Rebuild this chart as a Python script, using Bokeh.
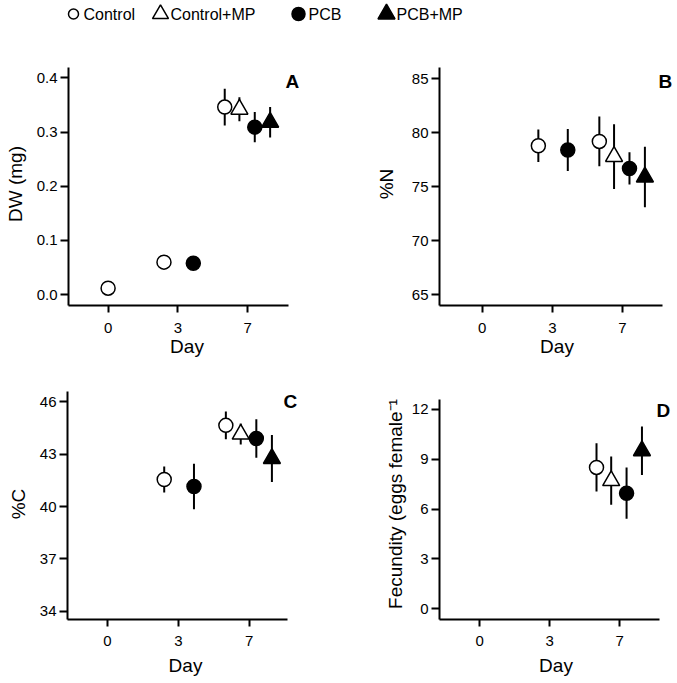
from bokeh.plotting import figure
from bokeh.layouts import column, row
from bokeh.models import Range1d, Label, FixedTicker, NumeralTickFormatter, ColumnDataSource
from bokeh.core.properties import value
from bokeh.embed import file_html
from bokeh.resources import INLINE

FONT = "Liberation Sans"

# ---------------- data ----------------
groups = ["Control", "Control+MP", "PCB", "PCB+MP"]
group_marker = ["circle", "triangle", "circle", "triangle"]
group_fill = ["white", "white", "black", "black"]
day_labels = ["0", "3", "7"]

# Panel A: dry weight (mg)
dw_control_days = ["0", "3", "7"]
dw_control = [0.012, 0.060, 0.346]
dw_control_err = [0.004, 0.004, 0.034]
dw_controlmp_days = ["7"]
dw_controlmp = [0.342]
dw_controlmp_err = [0.022]
dw_pcb_days = ["3", "7"]
dw_pcb = [0.058, 0.309]
dw_pcb_err = [0.004, 0.028]
dw_pcbmp_days = ["7"]
dw_pcbmp = [0.318]
dw_pcbmp_err = [0.028]
dw_ticks = [0.0, 0.1, 0.2, 0.3, 0.4]

# Panel B: %N
n_control_days = ["3", "7"]
n_control = [78.8, 79.2]
n_control_err = [1.5, 2.3]
n_controlmp_days = ["7"]
n_controlmp = [77.8]
n_controlmp_err = [3.0]
n_pcb_days = ["3", "7"]
n_pcb = [78.4, 76.7]
n_pcb_err = [1.95, 1.5]
n_pcbmp_days = ["7"]
n_pcbmp = [75.9]
n_pcbmp_err = [2.8]
n_ticks = [65, 70, 75, 80, 85]

# Panel C: %C
c_control_days = ["3", "7"]
c_control = [41.55, 44.65]
c_control_err = [0.75, 0.8]
c_controlmp_days = ["7"]
c_controlmp = [44.15]
c_controlmp_err = [0.6]
c_pcb_days = ["3", "7"]
c_pcb = [41.15, 43.9]
c_pcb_err = [1.3, 1.1]
c_pcbmp_days = ["7"]
c_pcbmp = [42.75]
c_pcbmp_err = [1.35]
c_ticks = [34, 37, 40, 43, 46]

# Panel D: fecundity (eggs female^-1)
f_control_days = ["7"]
f_control = [8.5]
f_control_err = [1.45]
f_controlmp_days = ["7"]
f_controlmp = [7.7]
f_controlmp_err = [1.45]
f_pcb_days = ["7"]
f_pcb = [6.95]
f_pcb_err = [1.54]
f_pcbmp_days = ["7"]
f_pcbmp = [9.5]
f_pcbmp_err = [1.46]
f_ticks = [0, 3, 6, 9, 12]

# horizontal dodge of groups within a day (layout, in category units)
dodge = {
    "0": {"Control": 0.0},
    "3": {"Control": -0.2, "PCB": 0.22},
    "7": {"Control": -0.33, "Control+MP": -0.12, "PCB": 0.1, "PCB+MP": 0.32},
}

# layout per panel: axis extents (bounds), axis pixel lengths, frame pixel sizes, borders
panels = [
    dict(letter="A", ylabel="DW (mg)", ticks=dw_ticks, fmt="0.0",
         yb=(-0.02, 0.419), xb=(-0.567, 2.583),
         series=[(dw_control_days, dw_control, dw_control_err),
                 (dw_controlmp_days, dw_controlmp, dw_controlmp_err),
                 (dw_pcb_days, dw_pcb, dw_pcb_err),
                 (dw_pcbmp_days, dw_pcbmp, dw_pcbmp_err)],
         axw=220, axh=238, fw=237, fh=243, bl=68, br=0, bt=35, bb=58,
         xstand=10, xls=0, yls=8, lx=217, ly=8),
    dict(letter="B", ylabel="%N", ticks=n_ticks, fmt=None,
         yb=(64.0, 86.05), xb=(-0.61, 2.571),
         series=[(n_control_days, n_control, n_control_err),
                 (n_controlmp_days, n_controlmp, n_controlmp_err),
                 (n_pcb_days, n_pcb, n_pcb_err),
                 (n_pcbmp_days, n_pcbmp, n_pcbmp_err)],
         axw=223, axh=238, fw=235, fh=243, bl=134, br=0, bt=35, bb=58,
         xstand=10, xls=0, yls=12, lx=219, ly=8),
    dict(letter="C", ylabel="%C", ticks=c_ticks, fmt=None,
         yb=(33.53, 46.59), xb=(-0.565, 2.54),
         series=[(c_control_days, c_control, c_control_err),
                 (c_controlmp_days, c_controlmp, c_controlmp_err),
                 (c_pcb_days, c_pcb, c_pcb_err),
                 (c_pcbmp_days, c_pcbmp, c_pcbmp_err)],
         axw=220, axh=228, fw=236, fh=231, bl=67, br=0, bt=25, bb=63,
         xstand=9, xls=6, yls=8, lx=216, ly=2),
    dict(letter="D", ylabel="Fecundity (eggs female\u207b\u00b9", ticks=f_ticks, fmt=None,
         yb=(-0.64, 12.58), xb=(-0.576, 2.571),
         series=[(f_control_days, f_control, f_control_err),
                 (f_controlmp_days, f_controlmp, f_controlmp_err),
                 (f_pcb_days, f_pcb, f_pcb_err),
                 (f_pcbmp_days, f_pcbmp, f_pcbmp_err)],
         axw=220, axh=220, fw=233, fh=231, bl=136, br=0, bt=25, bb=63,
         xstand=9, xls=6, yls=3, lx=217, ly=11),
]


def make_panel(cfg):
    x_lo, x_hi = cfg["xb"]
    y_lo, y_hi = cfg["yb"]
    x_end = x_hi + (cfg["fw"] - cfg["axw"]) * (x_hi - x_lo) / cfg["axw"]
    y_end = y_hi + (cfg["fh"] - cfg["axh"]) * (y_hi - y_lo) / cfg["axh"]
    p = figure(frame_width=cfg["fw"], frame_height=cfg["fh"],
               min_border_left=cfg["bl"], min_border_right=cfg["br"],
               min_border_top=cfg["bt"], min_border_bottom=cfg["bb"],
               x_range=Range1d(x_lo, x_end), y_range=Range1d(y_lo, y_end),
               output_backend="svg", toolbar_location=None)
    p.outline_line_color = None
    p.grid.visible = False
    p.background_fill_color = "white"
    p.border_fill_color = "white"

    sources = []
    for gi, (days, vals, errs) in enumerate(cfg["series"]):
        g = groups[gi]
        xs = [day_labels.index(d) + dodge[d][g] for d in days]
        src = ColumnDataSource(dict(
            x=xs, y=vals,
            lo=[v - e for v, e in zip(vals, errs)],
            hi=[v + e for v, e in zip(vals, errs)]))
        sources.append(src)
        p.segment(x0="x", y0="lo", x1="x", y1="hi", source=src,
                  line_color="black", line_width=2)
    for gi, src in enumerate(sources):
        size = 14 if group_marker[gi] == "circle" else 17
        p.scatter(x="x", y="y", source=src, marker=group_marker[gi], size=size,
                  fill_color=group_fill[gi], line_color="black", line_width=1.5)

    # axes
    p.xaxis.ticker = FixedTicker(ticks=list(range(len(day_labels))))
    p.xaxis.major_label_overrides = {i: lab for i, lab in enumerate(day_labels)}
    p.xaxis.axis_label = "Day"
    p.xaxis.bounds = (x_lo, x_hi)
    p.xaxis.major_label_standoff = cfg["xstand"]
    p.xaxis.axis_label_standoff = cfg["xls"]
    p.yaxis.ticker = FixedTicker(ticks=cfg["ticks"])
    if cfg["fmt"]:
        p.yaxis.formatter = NumeralTickFormatter(format=cfg["fmt"])
    p.yaxis.axis_label = cfg["ylabel"]
    p.yaxis.bounds = (y_lo, y_hi)
    p.yaxis.major_label_standoff = 3
    p.yaxis.axis_label_standoff = cfg["yls"]
    for ax in (p.xaxis, p.yaxis):
        ax.axis_line_width = 2
        ax.axis_line_color = "black"
        ax.major_tick_line_width = 2
        ax.major_tick_line_color = "black"
        ax.major_tick_in = 0
        ax.minor_tick_line_color = None
        ax.major_label_text_font = FONT
        ax.major_label_text_font_size = "15px"
        ax.major_label_text_color = "black"
        ax.axis_label_text_font = FONT
        ax.axis_label_text_font_size = "19px"
        ax.axis_label_text_font_style = "normal"
        ax.axis_label_text_color = "black"
    p.xaxis.major_tick_out = 7
    p.yaxis.major_tick_out = 8

    p.add_layout(Label(x=cfg["lx"], y=cfg["fh"] - cfg["ly"], x_units="screen", y_units="screen",
                       text=cfg["letter"], text_font=FONT, text_font_size="19px",
                       text_font_style="bold", text_color="black",
                       text_align="left", text_baseline="top"))
    return p


figs = [make_panel(c) for c in panels]

# ---------------- legend strip ----------------
legend_x = [73, 160, 298, 386]       # marker centres (px)
legend_text_x = [83, 170, 308, 396]  # label starts (px)
legend_size = [10, 16, 13, 17]
LH = 27

lg = figure(width=677, height=LH, x_range=Range1d(0, 677), y_range=Range1d(0, LH),
            output_backend="svg", toolbar_location=None, min_border=0)
lg.axis.visible = False
lg.grid.visible = False
lg.outline_line_color = None
for i, g in enumerate(groups):
    lg.scatter(x=[legend_x[i]], y=[LH - 13.5], marker=group_marker[i], size=legend_size[i],
               fill_color=group_fill[i], line_color="black", line_width=1.5)
lg.text(x=legend_text_x, y=[LH - 14] * len(groups), text=groups, text_font=value(FONT),
        text_font_size="16px", text_baseline="middle", text_align="left", text_color="black")

layout = column(lg, row(figs[0], figs[1]), row(figs[2], figs[3]))

open("out.html", "w").write(file_html(layout, INLINE))
